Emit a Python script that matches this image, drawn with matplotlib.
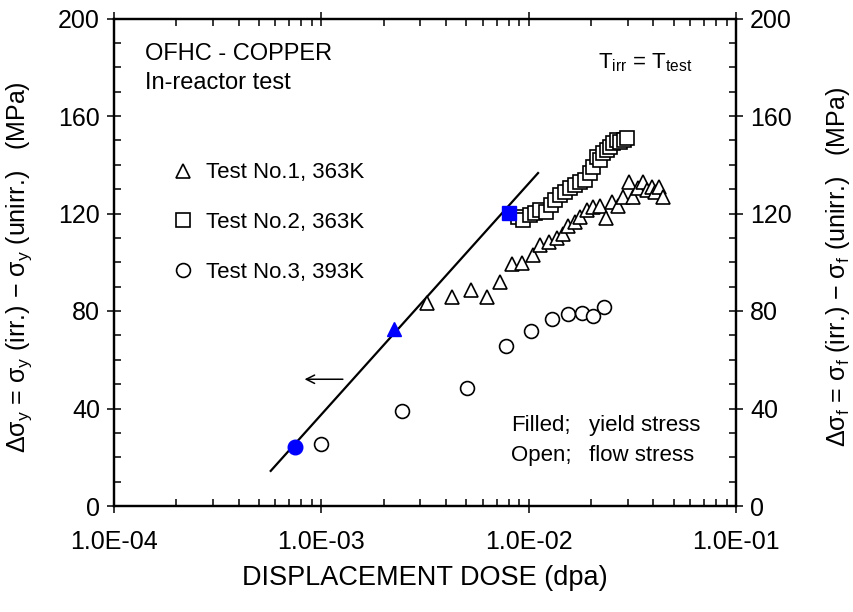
import matplotlib
matplotlib.use('Agg')
import matplotlib.pyplot as plt
from matplotlib.ticker import FixedLocator, LogLocator, MultipleLocator, NullFormatter
from matplotlib.lines import Line2D

plt.rcParams['font.family'] = ['Liberation Sans', 'DejaVu Sans']
plt.rcParams['mathtext.fontset'] = 'custom'
plt.rcParams['mathtext.rm'] = 'Liberation Sans'
plt.rcParams['mathtext.it'] = 'Liberation Sans:italic'
plt.rcParams['mathtext.bf'] = 'Liberation Sans:bold'
plt.rcParams['mathtext.default'] = 'regular'

# ---------------- data ----------------
# Test No.1, 363K (open: flow stress)
t1_dose = [3.24e-3, 4.25e-3, 5.26e-3, 6.33e-3, 7.28e-3, 8.28e-3, 9.26e-3, 1.05e-2,
           1.14e-2, 1.25e-2, 1.37e-2, 1.46e-2, 1.55e-2, 1.67e-2, 1.77e-2, 1.91e-2,
           2.05e-2, 2.21e-2, 2.36e-2, 2.52e-2, 2.71e-2, 2.86e-2, 3.06e-2, 3.20e-2,
           3.38e-2, 3.55e-2, 3.71e-2, 3.93e-2, 4.07e-2, 4.27e-2, 4.44e-2]
t1_stress = [83.2, 85.9, 88.6, 85.6, 91.8, 99.3, 99.8, 103.0,
             107.0, 108.4, 109.8, 111.6, 114.9, 116.6, 118.7, 121.4,
             122.5, 123.1, 118.3, 124.8, 123.0, 126.9, 133.0, 126.9,
             130.3, 133.0, 129.6, 131.0, 129.0, 131.0, 126.9]
# Test No.2, 363K (open: flow stress)
t2_dose = [8.92e-3, 9.42e-3, 1.02e-2, 1.07e-2, 1.14e-2, 1.21e-2, 1.28e-2, 1.34e-2,
           1.42e-2, 1.50e-2, 1.58e-2, 1.67e-2, 1.77e-2, 1.87e-2, 1.98e-2, 2.05e-2,
           2.13e-2, 2.21e-2, 2.29e-2, 2.38e-2, 2.47e-2, 2.56e-2, 2.66e-2, 2.76e-2,
           2.88e-2, 2.97e-2]
t2_stress = [118.4, 117.3, 119.4, 120.3, 121.4, 120.7, 123.5, 125.5,
             127.6, 129.0, 130.3, 131.7, 133.0, 133.7, 136.5, 139.2,
             143.3, 142.0, 144.7, 146.0, 147.4, 148.8, 150.2, 149.5,
             150.2, 150.9]
# Test No.3, 393K (open: flow stress)
t3_dose = [1.00e-3, 2.44e-3, 5.03e-3, 7.76e-3, 1.03e-2, 1.29e-2, 1.54e-2, 1.80e-2,
           2.05e-2, 2.32e-2]
t3_stress = [25.4, 39.0, 48.5, 65.8, 71.9, 76.7, 78.8, 79.0, 78.1, 81.5]

# filled: yield stress (Test 1, Test 2, Test 3)
yield_dose = [2.24e-3, 8.0e-3, 7.5e-4]
yield_stress = [72.6, 120.2, 24.3]

# fitted line
fit_dose = [5.7e-4, 1.11e-2]
fit_stress = [14.4, 136.6]

x_ticks = [1e-4, 1e-3, 1e-2, 1e-1]
x_ticklabels = ['1.0E-04', '1.0E-03', '1.0E-02', '1.0E-01']
y_ticks = [0, 40, 80, 120, 160, 200]

legend_labels = ['Test No.1, 363K', 'Test No.2, 363K', 'Test No.3, 393K']

# ---------------- figure ----------------
W, H = 854, 612
fig = plt.figure(figsize=(W / 100, H / 100), dpi=100)
ax = fig.add_axes([114 / W, (H - 506) / H, (736 - 114) / W, (506 - 18.5) / H])

ms = 10.5
mew = 1.2

ax.plot(fit_dose, fit_stress, color='black', lw=1.6, zorder=2)
ax.plot(t1_dose, t1_stress, ls='none', marker='^', ms=ms, mfc='white', mec='black', mew=mew, zorder=3)
ax.plot(t2_dose, t2_stress, ls='none', marker='s', ms=ms * 0.95, mfc='white', mec='black', mew=mew, zorder=3)
ax.plot(t3_dose, t3_stress, ls='none', marker='o', ms=ms * 0.95, mfc='white', mec='black', mew=mew, zorder=3)
ax.plot(yield_dose[0], yield_stress[0], ls='none', marker='^', ms=ms, color='#0000ff', zorder=4)
ax.plot(yield_dose[1], yield_stress[1], ls='none', marker='s', ms=ms, color='#0000ff', zorder=4)
ax.plot(yield_dose[2], yield_stress[2], ls='none', marker='o', ms=ms, color='#0000ff', zorder=4)

ax.set_xscale('log')
ax.set_xlim(1e-4, 1e-1)
ax.set_ylim(0, 200)
ax.xaxis.set_major_locator(FixedLocator(x_ticks))
ax.set_xticklabels(x_ticklabels)
ax.xaxis.set_minor_locator(LogLocator(base=10, subs=range(2, 10)))
ax.xaxis.set_minor_formatter(NullFormatter())
ax.set_yticks(y_ticks)
ax.yaxis.set_minor_locator(MultipleLocator(10))

for sp in ax.spines.values():
    sp.set_linewidth(1.6)

TICK_FS = 18
ax.tick_params(which='major', direction='inout', length=10, width=1.1,
               top=True, right=False, labelsize=TICK_FS, pad=5)
ax.tick_params(which='minor', direction='in', length=5, width=1.1, top=True, right=False)
ax.tick_params(axis='x', which='major', pad=12)

ax2 = ax.twinx()
ax2.set_ylim(0, 200)
ax2.set_yticks(y_ticks)
ax2.yaxis.set_minor_locator(MultipleLocator(10))
ax2.tick_params(which='major', direction='inout', length=10, width=1.1, labelsize=TICK_FS, pad=5)
ax2.tick_params(which='minor', direction='in', length=5, width=1.1)
for sp in ax2.spines.values():
    sp.set_linewidth(1.6)

ax.set_xlabel('DISPLACEMENT DOSE (dpa)', fontsize=19.5, labelpad=8)
ax.set_ylabel('Δσ$_\\mathrm{y}$ = σ$_\\mathrm{y}$ (irr.) − σ$_\\mathrm{y}$ (unirr.)   (MPa)',
              fontsize=18)
ax.yaxis.set_label_coords(-0.128, 0.49)
ax2.set_ylabel('Δσ$_\\mathrm{f}$ = σ$_\\mathrm{f}$ (irr.) − σ$_\\mathrm{f}$ (unirr.)   (MPa)',
               fontsize=18)
ax2.yaxis.set_label_coords(1.142, 0.49)

# annotations
ax.text(0.05, 0.95, 'OFHC - COPPER', transform=ax.transAxes, fontsize=17, va='top')
ax.text(0.05, 0.89, 'In-reactor test', transform=ax.transAxes, fontsize=17, va='top')
ax.text(0.778, 0.91, 'T$_\\mathrm{irr}$ = T$_\\mathrm{test}$', transform=ax.transAxes,
        fontsize=16, va='center')
ax.text(0.638, 0.153, 'Filled;', transform=ax.transAxes, fontsize=16, va='baseline')
ax.text(0.763, 0.153, 'yield stress', transform=ax.transAxes, fontsize=16, va='baseline')
ax.text(0.638, 0.093, 'Open;', transform=ax.transAxes, fontsize=16, va='baseline')
ax.text(0.763, 0.093, 'flow stress', transform=ax.transAxes, fontsize=16, va='baseline')

ax.annotate('', xy=(8.3e-4, 52), xytext=(1.27e-3, 52),
            arrowprops=dict(arrowstyle='->,head_length=0.6,head_width=0.3', lw=1.1, color='black',
                            shrinkA=0, shrinkB=0))

handles = [
    Line2D([], [], ls='none', marker='^', ms=ms, mfc='white', mec='black', mew=mew),
    Line2D([], [], ls='none', marker='s', ms=ms * 0.95, mfc='white', mec='black', mew=mew),
    Line2D([], [], ls='none', marker='o', ms=ms * 0.95, mfc='white', mec='black', mew=mew),
]
ax.legend(handles, legend_labels, loc='upper left', bbox_to_anchor=(0.093, 0.705),
          frameon=False, fontsize=16, handlelength=1.0, handletextpad=0.55,
          labelspacing=1.3, borderpad=0, borderaxespad=0)

fig.savefig('out.png', dpi=100)
